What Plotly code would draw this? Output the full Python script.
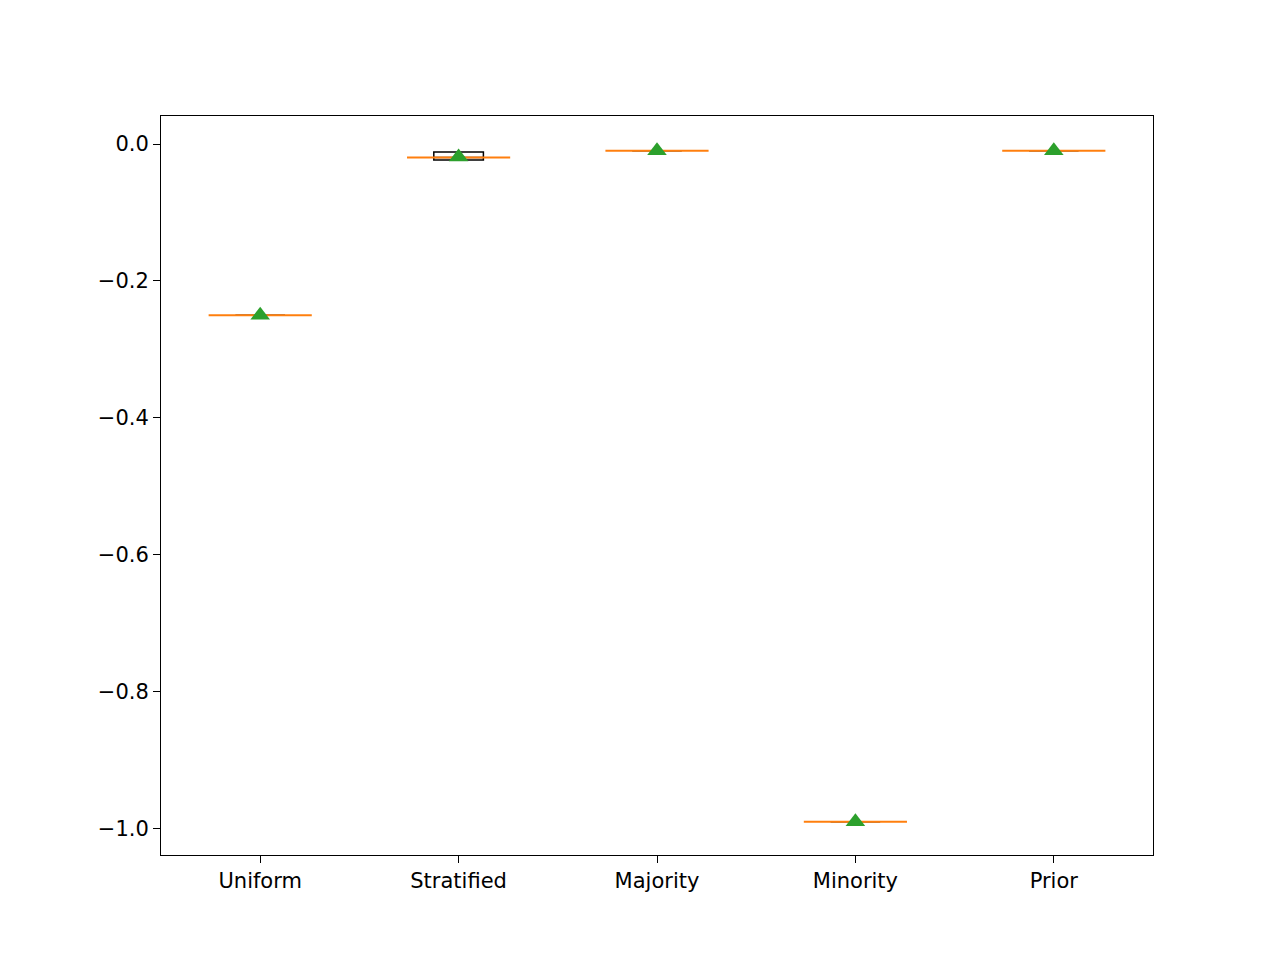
import plotly.graph_objects as go

labels = ["Uniform", "Stratified", "Majority", "Minority", "Prior"]
q1 = [-0.25, -0.0234, -0.01, -0.99, -0.01]
median = [-0.25, -0.0197, -0.01, -0.99, -0.01]
q3 = [-0.25, -0.0117, -0.01, -0.99, -0.01]
low = [-0.25, -0.0205, -0.01, -0.99, -0.01]
high = [-0.25, -0.0175, -0.01, -0.99, -0.01]
means = [-0.25, -0.019, -0.01, -0.99, -0.01]

pos = list(range(1, len(labels) + 1))

fig = go.Figure()
fig.add_trace(go.Box(
    x=pos, q1=q1, median=median, q3=q3, lowerfence=low, upperfence=high,
    width=0.25, whiskerwidth=1, line=dict(color="black", width=1.5),
    fillcolor="rgba(0,0,0,0)", showlegend=False, boxpoints=False,
))
for p, m in zip(pos, median):
    fig.add_trace(go.Scatter(
        x=[p - 0.26, p + 0.26], y=[m, m], mode="lines",
        line=dict(color="#ff7f0e", width=2), showlegend=False,
    ))
fig.add_trace(go.Scatter(
    x=pos, y=means, mode="markers",
    marker=dict(symbol="triangle-up", size=17, color="#2ca02c"),
    showlegend=False,
))

fig.update_layout(
    width=1280, height=960, plot_bgcolor="white", paper_bgcolor="white",
    margin=dict(l=153, r=135, t=108, b=113),
    font=dict(family="DejaVu Sans", size=21, color="black"),
)
fig.update_xaxes(
    range=[0.5, 5.5], tickvals=pos, ticktext=labels, showgrid=False,
    zeroline=False, showline=True, mirror=True, linecolor="black",
    ticks="outside", ticklen=7, tickcolor="black",
)
fig.update_yaxes(
    range=[-1.0384, 0.0409], tickvals=[0, -0.2, -0.4, -0.6, -0.8, -1.0],
    ticktext=["0.0", "\u22120.2", "\u22120.4", "\u22120.6", "\u22120.8", "\u22121.0"],
    showgrid=False, zeroline=False, showline=True, mirror=True,
    linecolor="black", ticks="outside", ticklen=7, tickcolor="black",
)

fig.write_html("out.html")
